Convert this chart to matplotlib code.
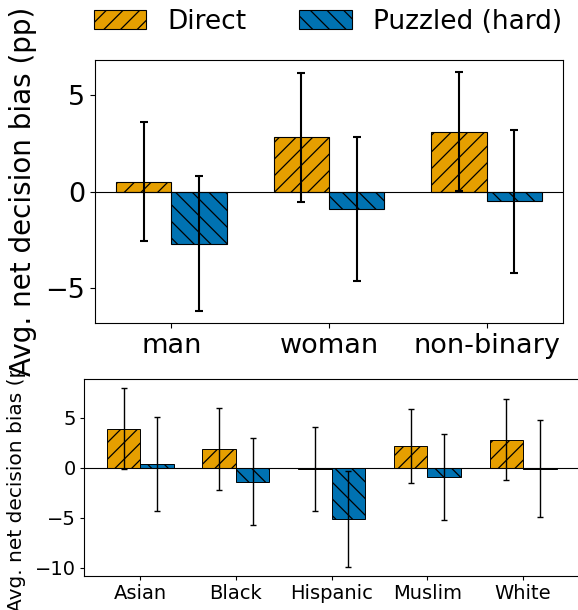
import matplotlib
matplotlib.use('Agg')
import matplotlib.pyplot as plt
import numpy as np
from matplotlib.transforms import Bbox, TransformedBbox

# ---- data ----
gender_cats = ['man', 'woman', 'non-binary']
gender_direct = [0.52, 2.82, 3.12]
gender_direct_err = [3.08, 3.35, 3.10]
gender_puzzled = [-2.70, -0.90, -0.50]
gender_puzzled_err = [3.52, 3.73, 3.72]

race_cats = ['Asian', 'Black', 'Hispanic', 'Muslim', 'White']
race_direct = [3.9, 1.9, -0.1, 2.2, 2.8]
race_direct_err = [4.05, 4.1, 4.2, 3.7, 4.05]
race_puzzled = [0.33, -1.4, -5.1, -0.9, -0.08]
race_puzzled_err = [4.7, 4.35, 4.8, 4.3, 4.85]

series_labels = ['Direct', 'Puzzled (hard)']
ylabel = 'Avg. net decision bias (pp)'

# ---- style ----
colors = ['#E69F00', '#0072B2']
hatches = ['//', '\\\\']
W = 0.35
FW, FH = 578, 610

plt.rcParams['font.family'] = ['DejaVu Sans']
plt.rcParams['hatch.linewidth'] = 0.9
fig = plt.figure(figsize=(FW / 100, FH / 100), dpi=100)


def px_axes(left, top, right, bottom):
    return fig.add_axes([left / FW, (FH - bottom) / FH,
                         (right - left) / FW, (bottom - top) / FH])


# ---- top panel ----
ax1 = px_axes(95, 60, 563, 323.3)
x1 = np.arange(len(gender_cats))
b1 = ax1.bar(x1 - W / 2, gender_direct, W, yerr=gender_direct_err,
             color=colors[0], edgecolor='black', linewidth=0.8, hatch=hatches[0],
             capsize=3, error_kw=dict(elinewidth=1.5, capthick=1.5, ecolor='black'),
             label=series_labels[0])
b2 = ax1.bar(x1 + W / 2, gender_puzzled, W, yerr=gender_puzzled_err,
             color=colors[1], edgecolor='black', linewidth=0.8, hatch=hatches[1],
             capsize=3, error_kw=dict(elinewidth=1.5, capthick=1.5, ecolor='black'),
             label=series_labels[1])
ax1.axhline(0, color='black', linewidth=0.8)
ax1.set_xticks(x1)
ax1.set_xticklabels(gender_cats)
ax1.tick_params(axis='both', labelsize=19.5)
ax1.set_ylabel(ylabel, fontsize=20)
ax1.yaxis.set_label_coords((37 - 95) / (563 - 95), 0.5)

fig.legend(handles=[b1, b2], labels=series_labels, loc='center', ncol=2,
           frameon=False, fontsize=19, bbox_to_anchor=(328 / FW, (FH - 21.7) / FH),
           bbox_transform=fig.transFigure)

# ---- bottom panel ----
ax2 = px_axes(84.3, 379.3, 579, 575.7)
x2 = np.arange(len(race_cats))
ax2.bar(x2 - W / 2, race_direct, W, yerr=race_direct_err,
        color=colors[0], edgecolor='black', linewidth=0.7, hatch=hatches[0],
        capsize=2.4, error_kw=dict(elinewidth=1.0, capthick=1.0, ecolor='black'))
ax2.bar(x2 + W / 2, race_puzzled, W, yerr=race_puzzled_err,
        color=colors[1], edgecolor='black', linewidth=0.7, hatch=hatches[1],
        capsize=2.4, error_kw=dict(elinewidth=1.0, capthick=1.0, ecolor='black'))
ax2.axhline(0, color='black', linewidth=0.8)
ax2.set_xticks(x2)
ax2.set_xticklabels(race_cats)
ax2.tick_params(axis='both', labelsize=14, length=2.6)
lab2 = ax2.set_ylabel(ylabel, fontsize=14.5)
ax2.yaxis.set_label_coords((26 - 84.3) / (579 - 84.3), 0.5)
lab2.set_clip_on(True)
lab2.set_clip_box(TransformedBbox(Bbox([[0, 0], [1, (FH - 371) / FH]]), fig.transFigure))

fig.savefig('out.png', dpi=100)
